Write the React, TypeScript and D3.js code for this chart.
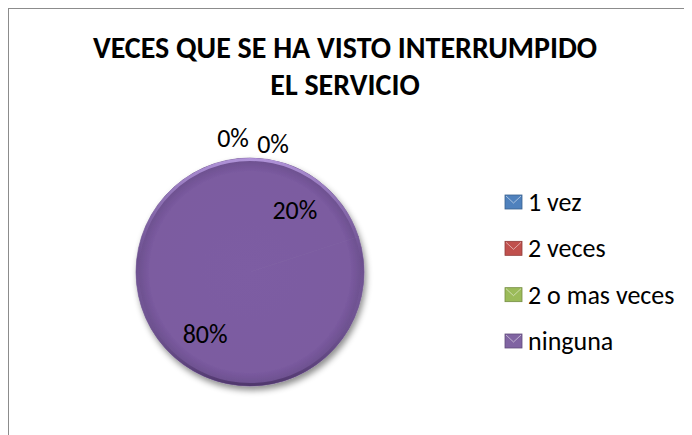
import * as d3 from "d3";
import { useEffect, useRef } from "react";

// datos de la gráfica
const categories = ["1 vez", "2 veces", "2 o mas veces", "ninguna"];
const values = [0, 0, 20, 80];
const labels = ["0%", "0%", "20%", "80%"];
const legendColors = ["#4F81BD", "#C0504D", "#9BBB59", "#8064A2"];
const titleLines = ["VECES QUE SE HA VISTO INTERRUMPIDO", "EL SERVICIO"];

const W = 684;
const H = 427;

const App = () => {
  const ref = useRef<SVGSVGElement>(null);

  useEffect(() => {
    const svg = d3.select(ref.current);
    svg.selectAll("*").remove();
    const font = "Carlito, Calibri, 'Open Sans', sans-serif";

    const cx = 242, cy = 264, r = 114;

    const defs = svg.append("defs");
    const grad = defs.append("radialGradient").attr("id", "pieGrad")
      .attr("gradientUnits", "userSpaceOnUse")
      .attr("cx", 0).attr("cy", 0).attr("r", r);
    grad.append("stop").attr("offset", "0%").attr("stop-color", "#7D5DA3");
    grad.append("stop").attr("offset", "88%").attr("stop-color", "#7B5BA0");
    grad.append("stop").attr("offset", "100%").attr("stop-color", "#6A4E8C");
    const shadow = defs.append("filter").attr("id", "shadow")
      .attr("x", "-20%").attr("y", "-20%").attr("width", "140%").attr("height", "140%");
    shadow.append("feDropShadow").attr("dx", 2).attr("dy", 4).attr("stdDeviation", 3)
      .attr("flood-color", "#000").attr("flood-opacity", 0.45);
    const lgrad = defs.append("linearGradient").attr("id", "rim")
      .attr("x1", 0).attr("y1", 0).attr("x2", 0).attr("y2", 1);
    lgrad.append("stop").attr("offset", "0%").attr("stop-color", "#B79AE0").attr("stop-opacity", 0.9);
    lgrad.append("stop").attr("offset", "45%").attr("stop-color", "#9C7FC4").attr("stop-opacity", 0);
    lgrad.append("stop").attr("offset", "100%").attr("stop-color", "#4A3266").attr("stop-opacity", 0.8);

    // marco
    svg.append("rect")
      .attr("x", 0.5).attr("y", 0.5)
      .attr("width", W + 20).attr("height", H + 20)
      .attr("fill", "#fff").attr("stroke", "#8c8c8c").attr("stroke-width", 1);

    // título
    svg.append("g").selectAll("text")
      .data(titleLines).enter().append("text")
      .attr("x", 337).attr("y", (d, i) => 50 + i * 37)
      .attr("text-anchor", "middle")
      .attr("font-family", font).attr("font-weight", "bold")
      .attr("font-size", 30).attr("fill", "#000")
      .text(d => d);

    const pie = d3.pie<number>().sort(null)(values);
    const arc = d3.arc<d3.PieArcDatum<number>>().innerRadius(0).outerRadius(r);
    const g = svg.append("g").attr("transform", `translate(${cx},${cy})`);

    g.append("g").attr("filter", "url(#shadow)")
      .selectAll("path").data(pie).enter().append("path")
      .attr("d", arc)
      .attr("fill", "url(#pieGrad)")
      .attr("stroke", "url(#pieGrad)").attr("stroke-width", 0.6);
    g.append("circle").attr("r", r - 1.5)
      .attr("fill", "none").attr("stroke", "url(#rim)").attr("stroke-width", 3);

    // etiquetas
    const inner = d3.arc<d3.PieArcDatum<number>>().innerRadius(r * 0.67).outerRadius(r * 0.67);
    const zeroOffsets = [-17, 23];
    let zi = 0;
    g.selectAll("text.lbl").data(pie).enter().append("text")
      .attr("class", "lbl")
      .attr("transform", d => {
        if (d.value === 0) {
          const off = zeroOffsets[zi++];
          return `translate(${off},${-r - 20 + (off > 0 ? 6 : 0)})`;
        }
        const [x, y] = inner.centroid(d);
        return `translate(${x},${y})`;
      })
      .attr("text-anchor", "middle").attr("dy", "0.35em")
      .attr("font-family", font).attr("font-size", 26).attr("fill", "#000")
      .text((d, i) => labels[i]);

    // leyenda
    const ly = d3.scalePoint<string>().domain(categories).range([194, 333]);
    const leg = svg.append("g");
    const items = leg.selectAll("g").data(categories).enter().append("g")
      .attr("transform", d => `translate(497,${ly(d)})`);
    items.append("rect")
      .attr("x", 0).attr("y", -7).attr("width", 17).attr("height", 14)
      .attr("fill", (d, i) => legendColors[i])
      .attr("stroke", (d, i) => d3.color(legendColors[i])!.darker(0.8).toString())
      .attr("stroke-width", 0.8);
    items.append("path")
      .attr("d", "M1,-6 L8.5,1 L16,-6")
      .attr("fill", "none").attr("stroke", "#fff").attr("stroke-opacity", 0.5).attr("stroke-width", 1);
    items.append("text")
      .attr("x", 23).attr("y", 0).attr("dy", "0.35em")
      .attr("font-family", font).attr("font-size", 26).attr("fill", "#000")
      .text(d => d);
  }, []);

  return <svg ref={ref} width={W} height={H} style={{ display: "block" }}></svg>;
};

export default App;
